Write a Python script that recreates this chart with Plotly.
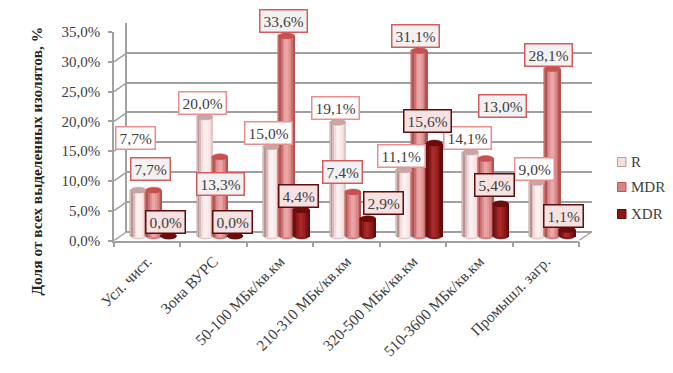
import plotly.graph_objects as go

categories = ["Усл. чист.", "Зона ВУРС", "50-100 МБк/кв.км", "210-310 МБк/кв.км",
              "320-500 МБк/кв.км", "510-3600 МБк/кв.км", "Промышл. загр."]
r_values = [7.7, 20.0, 15.0, 19.1, 11.1, 14.1, 9.0]
mdr_values = [7.7, 13.3, 33.6, 7.4, 31.1, 13.0, 28.1]
xdr_values = [0.0, 0.0, 4.4, 2.9, 15.6, 5.4, 1.1]
y_ticks = [0, 5, 10, 15, 20, 25, 30, 35]
y_labels = ["0,0%", "5,0%", "10,0%", "15,0%", "20,0%", "25,0%", "30,0%", "35,0%"]

W, H = 673, 373
FONT = "Liberation Serif"
X0, X1, Y_BOTTOM, Y_TOP = 114, 579, 240.5, 32
DX_BACK, DY_BACK = 13, 9
DX_BAR, DY_BAR = 6.5, 4.5
PX_PER_UNIT = (Y_BOTTOM - Y_TOP) / 35
GRID = "#A0A0A0"
X_RANGE = [-0.5, 6.5]


def xdom(shift):
    return [(X0 + shift) / W, (X1 + shift) / W]


def ydom(shift, extra_below=0):
    return [(H - Y_BOTTOM + shift - extra_below) / H, (H - Y_TOP + shift) / H]


series = [
    dict(name="R", values=r_values, center=-0.228,
         shades=["#B99494", "#D8BBBB", "#F0DCDC", "#FBEDED", "#FDF2F2", "#FCEDED", "#F9E5E5", "#F2D9D9", "#E3C6C6"],
         mid="#F5DEDE", edge="#C09A9A", top="#C8A6A6", legend="#F6DEDE",
         dx=[-18] * 7, dy=[52, 14, 14, 14, 14, 14, 13.5],
         box="#E98F8F", bg="#FFFFFF", legend_y=162),
    dict(name="MDR", values=mdr_values, center=0.0,
         shades=["#B25555", "#CC7070", "#DE8E8E", "#E8A4A4", "#E9A7A7", "#E49898", "#DA8686", "#CB7070", "#B55353"],
         mid="#D98484", edge="#C05555", top="#C9504F", legend="#D98484",
         dx=[-3, 0, -3, -10.5, -3.5, 17, -3.5], dy=[21.5, -27.5, 14.5, 19.5, 14.5, 53, 14],
         box="#D65C5C", bg="#F3F1F1", legend_y=187),
    dict(name="XDR", values=xdr_values, center=0.226,
         shades=["#6E1010", "#8A1A1A", "#A02424", "#A92B2B", "#A52828", "#9A2020", "#8A1818", "#791212", "#660C0C"],
         mid="#8A1616", edge="#5E0A0A", top="#6E0C0C", legend="#8A1616",
         dx=[12, 12, 11.5, 30.5, 8.5, 8.5, 11.5], dy=[14, 14, 14, 16, 22.5, 19, 13.5],
         box="#5A0E0E", bg="#F6E2E2", legend_y=214),
]
BAR_W = 0.233

fig = go.Figure()

# Empty traces that bring the front and back wall subplots into the figure
fig.add_trace(go.Scatter(x=categories, y=[None] * 7, xaxis="x", yaxis="y", showlegend=False, hoverinfo="skip"))
fig.add_trace(go.Scatter(x=categories, y=[None] * 7, xaxis="x2", yaxis="y2", showlegend=False, hoverinfo="skip"))

shapes = []
annotations = []

for s in series:
    left = s["center"] - BAR_W / 2
    fig.add_trace(go.Bar(
        x=categories, y=s["values"], name=s["name"], xaxis="x3", yaxis="y3", showlegend=False,
        offset=left, width=BAR_W,
        marker=dict(color=s["legend"], line=dict(color=s["edge"], width=1)),
        cliponaxis=False,
    ))
    n = len(s["shades"])
    for k, shade in enumerate(s["shades"]):
        step = BAR_W / n
        fig.add_trace(go.Bar(
            x=categories, y=s["values"], name=s["name"], xaxis="x3", yaxis="y3", showlegend=False,
            offset=left + k * step, width=BAR_W - k * step,
            marker=dict(color=shade, line=dict(width=0)), cliponaxis=False,
        ))
    for i, v in enumerate(s["values"]):
        for y_c, col, layer in ((0, s["mid"], "between"), (v, s["top"], "above")):
            shapes.append(dict(type="circle", xref="x3", yref="y3", layer=layer,
                               x0=i + left, x1=i + left + BAR_W,
                               y0=y_c - 0.5, y1=y_c + 0.5,
                               fillcolor=col, line=dict(color=s["edge"], width=0.5)))
        annotations.append(dict(
            xref="x3", yref="y3", x=i, y=v, xshift=s["dx"][i], yshift=s["dy"][i],
            text=f"{v:.1f}%".replace(".", ","), showarrow=False,
            font=dict(family=FONT, size=15.5, color="#404040"),
            bgcolor=s["bg"], bordercolor=s["box"], borderwidth=1.5, borderpad=3, height=15,
        ))
    # Legend entry: swatch and label
    ly = s["legend_y"]
    shapes.append(dict(type="rect", xref="paper", yref="paper", layer="above",
                       x0=617.5 / W, x1=626 / W, y0=1 - (ly + 4.5) / H, y1=1 - (ly - 4.5) / H,
                       fillcolor=s["legend"], line=dict(color=s["edge"], width=1)))
    annotations.append(dict(xref="paper", yref="paper", x=628.5 / W, y=1 - ly / H,
                            xanchor="left", yanchor="middle", showarrow=False, text=s["name"],
                            font=dict(family=FONT, size=15, color="#404040")))

# Side wall diagonals joining the front axis to the back wall
for t in y_ticks:
    shapes.append(dict(type="line", xref="paper", yref="y", layer="below",
                       x0=X0 / W, x1=(X0 + DX_BACK) / W, y0=t, y1=t + DY_BACK / PX_PER_UNIT,
                       line=dict(color=GRID, width=1.5)))
shapes.append(dict(type="line", xref="paper", yref="y", layer="below",
                   x0=X1 / W, x1=(X1 + DX_BACK) / W, y0=0, y1=DY_BACK / PX_PER_UNIT,
                   line=dict(color=GRID, width=1.5)))

annotations.append(dict(
    xref="paper", yref="paper", x=25 / W, y=1 - 161 / H, textangle=-90, showarrow=False,
    text="<b>Доля от всех выделенных изолятов, %</b>",
    font=dict(family=FONT, size=15.4, color="#262626"),
))

fig.update_layout(
    width=W, height=H, autosize=False, showlegend=False,
    margin=dict(l=0, r=0, t=0, b=0, autoexpand=False),
    paper_bgcolor="white", plot_bgcolor="rgba(0,0,0,0)",
    barmode="overlay", bargap=0,
    font=dict(family=FONT, color="#404040"),
    shapes=shapes, annotations=annotations,
    xaxis=dict(domain=xdom(0), anchor="y", type="category", categoryorder="array", range=X_RANGE,
               categoryarray=categories, tickson="boundaries", ticks="outside", ticklen=5,
               tickcolor=GRID, tickwidth=1.5, tickangle=-45, showline=True, linecolor=GRID,
               linewidth=1.5, showgrid=False, ticklabelstandoff=4,
               tickfont=dict(family=FONT, size=15.5, color="#404040")),
    yaxis=dict(domain=ydom(0), anchor="x", range=[0, 35], tickvals=y_ticks, ticktext=y_labels,
               ticks="outside", ticklen=4, tickcolor=GRID, tickwidth=1.5, showline=True,
               linecolor=GRID, linewidth=1.5, showgrid=False, zeroline=False, ticklabelstandoff=5,
               tickfont=dict(family=FONT, size=15, color="#404040")),
    xaxis2=dict(domain=xdom(DX_BACK), anchor="y2", type="category", categoryorder="array", range=X_RANGE,
                categoryarray=categories, showticklabels=False, ticks="", showgrid=False,
                showline=False),
    yaxis2=dict(domain=ydom(DY_BACK), anchor="x2", range=[0, 35], tickvals=y_ticks,
                showticklabels=False, ticks="", showgrid=True, gridcolor=GRID, gridwidth=1.5,
                zeroline=True, zerolinecolor=GRID, zerolinewidth=1.5, showline=True,
                linecolor=GRID, linewidth=1.5),
    xaxis3=dict(domain=xdom(DX_BAR), anchor="y3", type="category", categoryorder="array", range=X_RANGE,
                categoryarray=categories, showticklabels=False, ticks="", showgrid=False,
                showline=False, zeroline=False),
    yaxis3=dict(domain=ydom(DY_BAR, PX_PER_UNIT), anchor="x3", range=[-1, 35],
                showticklabels=False, ticks="", showgrid=False, showline=False, zeroline=False),
)

fig.write_html("out.html", config=dict(displayModeBar=False),
               post_script="document.body.style.margin='0';document.body.style.overflow='hidden';")
